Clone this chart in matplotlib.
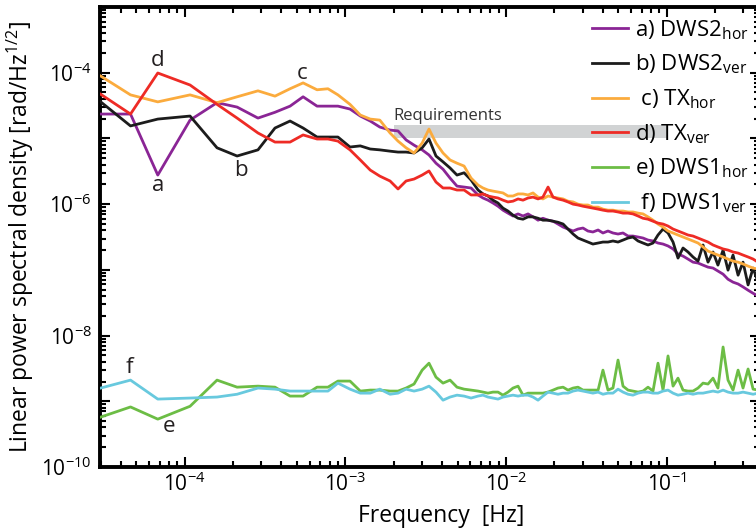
import math
import matplotlib
matplotlib.use("Agg")
import matplotlib.pyplot as plt
from matplotlib.ticker import FixedLocator, FuncFormatter, LogLocator, NullFormatter

plt.rcParams["font.family"] = ["Open Sans", "DejaVu Sans"]
plt.rcParams["mathtext.fontset"] = "custom"
plt.rcParams["mathtext.rm"] = "Open Sans"
plt.rcParams["mathtext.it"] = "Open Sans:italic"
plt.rcParams["mathtext.bf"] = "Open Sans:bold"

# frequency bins [Hz], shared by all six channels
freq = [3.0e-5, 4.6e-5, 6.8e-5, 1.08e-4, 1.59e-4, 2.12e-4, 2.86e-4, 3.65e-4, 4.53e-4, 5.46e-4,
        6.67e-4, 7.8e-4, 9.0e-4, 1.07e-3, 1.24e-3, 1.43e-3, 1.64e-3, 1.90e-3, 2.13e-3, 2.39e-3,
        2.68e-3, 3.01e-3, 3.32e-3, 3.67e-3, 4.06e-3, 4.49e-3, 4.96e-3, 5.49e-3, 6.07e-3, 6.71e-3,
        7.20e-3, 7.73e-3, 8.31e-3, 8.93e-3, 9.59e-3, 1.03e-2, 1.107e-2, 1.19e-2, 1.278e-2, 1.373e-2,
        1.475e-2, 1.585e-2, 1.70e-2, 1.83e-2, 1.965e-2, 2.11e-2, 2.27e-2, 2.435e-2, 2.62e-2, 2.81e-2,
        3.02e-2, 3.24e-2, 3.48e-2, 3.75e-2, 4.02e-2, 4.32e-2, 4.64e-2, 4.99e-2, 5.36e-2, 5.76e-2,
        6.18e-2, 6.65e-2, 7.14e-2, 7.67e-2, 8.24e-2, 8.85e-2, 9.51e-2, 0.1022, 0.1098, 0.1179,
        0.1267, 0.1361, 0.1462, 0.1571, 0.1688, 0.1813, 0.1948, 0.209, 0.225, 0.2415,
        0.2595, 0.279, 0.2995, 0.322, 0.346, 0.371]

# linear power spectral density [rad/Hz^1/2]
dws2_hor = [2.35e-5, 2.35e-5, 2.77e-6, 1.90e-5, 3.5e-5, 3.0e-5, 2.04e-5, 2.5e-5, 3.1e-5, 4.3e-5,
            3.1e-5, 3.1e-5, 3.1e-5, 2.8e-5, 2.19e-5, 1.84e-5, 1.49e-5, 1.34e-5, 1.30e-5, 9.5e-6,
            7.9e-6, 6.7e-6, 5.6e-6, 4.2e-6, 3.4e-6, 2.49e-6, 1.88e-6, 1.82e-6, 1.76e-6, 1.38e-6,
            1.24e-6, 1.15e-6, 1.04e-6, 9.3e-7, 8.1e-7, 7.3e-7, 6.6e-7, 7.1e-7, 6.6e-7, 7.1e-7,
            6.4e-7, 5.7e-7, 6.1e-7, 5.7e-7, 5.5e-7, 4.98e-7, 4.48e-7, 4.18e-7, 3.90e-7, 4.18e-7,
            4.33e-7, 3.90e-7, 3.77e-7, 4.04e-7, 3.64e-7, 3.90e-7, 3.64e-7, 3.51e-7, 3.64e-7, 3.27e-7,
            3.27e-7, 3.16e-7, 3.05e-7, 2.84e-7, 2.75e-7, 2.56e-7, 2.47e-7, 2.31e-7, 2.08e-7, 1.74e-7,
            1.62e-7, 1.46e-7, 1.31e-7, 1.27e-7, 1.18e-7, 1.10e-7, 1.065e-7, 9.6e-8, 8.6e-8, 7.2e-8,
            6.5e-8, 6.1e-8, 5.5e-8, 4.9e-8, 4.4e-8, 4.0e-8]
dws2_ver = [3.6e-5, 1.55e-5, 1.97e-5, 2.19e-5, 7.2e-6, 5.4e-6, 6.7e-6, 1.44e-5, 1.84e-5, 1.44e-5,
            1.05e-5, 1.05e-5, 1.05e-5, 7.4e-6, 7.7e-6, 6.9e-6, 6.7e-6, 6.4e-6, 6.2e-6, 6.2e-6,
            6.0e-6, 7.2e-6, 9.8e-6, 5.4e-6, 4.4e-6, 3.55e-6, 2.77e-6, 3.0e-6, 2.33e-6, 1.64e-6,
            1.43e-6, 1.33e-6, 1.15e-6, 1.04e-6, 8.7e-7, 7.85e-7, 6.8e-7, 6.1e-7, 5.9e-7, 6.4e-7,
            6.4e-7, 6.1e-7, 5.7e-7, 5.7e-7, 5.5e-7, 5.3e-7, 4.98e-7, 4.18e-7, 3.51e-7, 3.05e-7,
            2.84e-7, 2.65e-7, 2.47e-7, 2.56e-7, 2.65e-7, 2.65e-7, 2.75e-7, 2.65e-7, 2.84e-7, 3.05e-7,
            3.16e-7, 2.75e-7, 2.56e-7, 2.39e-7, 2.56e-7, 3.39e-7, 4.18e-7, 3.64e-7, 2.65e-7, 1.51e-7,
            2.15e-7, 1.87e-7, 1.57e-7, 1.36e-7, 2.39e-7, 1.31e-7, 1.87e-7, 1.18e-7, 2.00e-7, 9.9e-8,
            1.68e-7, 8.3e-8, 1.31e-7, 5.9e-8, 1.065e-7, 6.5e-8]
tx_hor = [8.9e-5, 4.6e-5, 3.6e-5, 4.6e-5, 3.5e-5, 4.3e-5, 5.3e-5, 4.4e-5, 5.7e-5, 7.0e-5,
          5.5e-5, 5.7e-5, 4.6e-5, 3.3e-5, 2.27e-5, 1.97e-5, 1.90e-5, 1.21e-5, 9.1e-6, 7.2e-6,
          6.0e-6, 8.5e-6, 1.39e-5, 8.5e-6, 6.0e-6, 4.7e-6, 4.2e-6, 3.8e-6, 2.49e-6, 1.95e-6,
          1.76e-6, 1.64e-6, 1.58e-6, 1.53e-6, 1.48e-6, 1.33e-6, 1.33e-6, 1.43e-6, 1.43e-6, 1.38e-6,
          1.48e-6, 1.28e-6, 1.20e-6, 1.33e-6, 1.28e-6, 1.24e-6, 1.20e-6, 1.11e-6, 1.08e-6, 1.00e-6,
          9.7e-7, 9.7e-7, 9.0e-7, 9.0e-7, 8.4e-7, 8.1e-7, 8.1e-7, 7.85e-7, 7.85e-7, 7.6e-7,
          7.6e-7, 7.3e-7, 7.1e-7, 6.4e-7, 5.7e-7, 4.98e-7, 4.48e-7, 3.90e-7, 3.64e-7, 3.39e-7,
          3.16e-7, 2.95e-7, 2.75e-7, 2.56e-7, 2.23e-7, 1.93e-7, 1.80e-7, 1.68e-7, 1.57e-7, 1.46e-7,
          1.36e-7, 1.31e-7, 1.23e-7, 1.14e-7, 1.065e-7, 1.03e-7]
tx_ver = [4.7e-5, 2.35e-5, 9.9e-5, 6.5e-5, 3.3e-5, 2.04e-5, 1.21e-5, 8.8e-6, 8.8e-6, 1.13e-5,
          9.8e-6, 9.8e-6, 9.1e-6, 6.7e-6, 4.7e-6, 3.3e-6, 2.67e-6, 2.25e-6, 1.70e-6, 2.25e-6,
          2.41e-6, 2.77e-6, 3.2e-6, 2.17e-6, 1.76e-6, 1.76e-6, 1.64e-6, 1.64e-6, 1.38e-6, 1.38e-6,
          1.43e-6, 1.33e-6, 1.28e-6, 1.24e-6, 1.15e-6, 1.08e-6, 1.11e-6, 1.20e-6, 1.15e-6, 1.24e-6,
          1.28e-6, 1.20e-6, 1.28e-6, 1.82e-6, 1.28e-6, 1.20e-6, 1.15e-6, 1.08e-6, 1.00e-6, 9.7e-7,
          9.3e-7, 9.0e-7, 8.7e-7, 8.4e-7, 8.1e-7, 7.85e-7, 7.85e-7, 7.6e-7, 7.3e-7, 7.3e-7,
          7.1e-7, 6.6e-7, 6.1e-7, 5.9e-7, 5.5e-7, 5.15e-7, 4.98e-7, 4.64e-7, 4.18e-7, 3.90e-7,
          3.64e-7, 3.39e-7, 3.27e-7, 3.05e-7, 2.84e-7, 2.65e-7, 2.39e-7, 2.23e-7, 2.08e-7, 2.00e-7,
          1.87e-7, 1.80e-7, 1.68e-7, 1.57e-7, 1.46e-7, 1.31e-7]
dws1_hor = [5.75e-10, 8.2e-10, 5.35e-10, 8.4e-10, 2.10e-9, 1.64e-9, 1.70e-9, 1.64e-9, 1.20e-9, 1.20e-9,
            1.64e-9, 1.64e-9, 2.03e-9, 2.03e-9, 1.43e-9, 1.48e-9, 1.48e-9, 1.43e-9, 1.43e-9, 1.59e-9,
            1.83e-9, 2.98e-9, 3.8e-9, 2.33e-9, 1.89e-9, 2.10e-9, 1.64e-9, 1.53e-9, 1.48e-9, 1.43e-9,
            1.38e-9, 1.33e-9, 1.38e-9, 1.38e-9, 1.24e-9, 1.38e-9, 1.59e-9, 1.70e-9, 1.24e-9, 1.33e-9,
            1.33e-9, 1.33e-9, 1.33e-9, 1.38e-9, 1.48e-9, 1.59e-9, 1.64e-9, 1.48e-9, 1.59e-9, 1.64e-9,
            1.48e-9, 1.48e-9, 1.48e-9, 1.48e-9, 2.98e-9, 1.48e-9, 1.59e-9, 4.24e-9, 1.70e-9, 1.48e-9,
            1.43e-9, 1.38e-9, 1.43e-9, 1.64e-9, 1.43e-9, 3.8e-9, 1.48e-9, 4.9e-9, 1.70e-9, 2.25e-9,
            1.48e-9, 1.43e-9, 1.43e-9, 1.59e-9, 1.89e-9, 1.83e-9, 2.25e-9, 1.59e-9, 6.7e-9, 2.10e-9,
            1.48e-9, 2.98e-9, 1.59e-9, 3.1e-9, 1.53e-9, 1.48e-9]
dws1_ver = [1.59e-9, 2.10e-9, 1.08e-9, 1.12e-9, 1.16e-9, 1.28e-9, 1.59e-9, 1.53e-9, 1.43e-9, 1.43e-9,
            1.43e-9, 1.43e-9, 1.89e-9, 1.53e-9, 1.33e-9, 1.33e-9, 1.53e-9, 1.28e-9, 1.33e-9, 1.53e-9,
            1.43e-9, 1.53e-9, 1.70e-9, 1.38e-9, 1.04e-9, 1.16e-9, 1.24e-9, 1.20e-9, 1.12e-9, 1.20e-9,
            1.24e-9, 1.16e-9, 1.12e-9, 1.08e-9, 1.16e-9, 1.20e-9, 1.24e-9, 1.20e-9, 1.24e-9, 1.24e-9,
            1.16e-9, 1.04e-9, 1.20e-9, 1.38e-9, 1.33e-9, 1.28e-9, 1.33e-9, 1.33e-9, 1.43e-9, 1.48e-9,
            1.43e-9, 1.38e-9, 1.33e-9, 1.38e-9, 1.28e-9, 1.33e-9, 1.33e-9, 1.53e-9, 1.38e-9, 1.28e-9,
            1.24e-9, 1.33e-9, 1.38e-9, 1.38e-9, 1.33e-9, 1.33e-9, 1.43e-9, 1.48e-9, 1.33e-9, 1.24e-9,
            1.28e-9, 1.33e-9, 1.28e-9, 1.33e-9, 1.33e-9, 1.38e-9, 1.43e-9, 1.38e-9, 1.48e-9, 1.38e-9,
            1.33e-9, 1.33e-9, 1.38e-9, 1.33e-9, 1.28e-9, 1.33e-9]

labels = [r"a) DWS2$_{\mathregular{hor}}$", r"b) DWS2$_{\mathregular{ver}}$", r" c) TX$_{\mathregular{hor}}$",
          r"d) TX$_{\mathregular{ver}}$", r"e) DWS1$_{\mathregular{hor}}$", r" f) DWS1$_{\mathregular{ver}}$"]
colors = ["#8a2595", "#1c1c1c", "#fbab3d", "#ee2b25", "#6cbd45", "#68c9de"]
series = [dws2_hor, dws2_ver, tx_hor, tx_ver, dws1_hor, dws1_ver]

# letters next to the curves
tags = ["a", "b", "c", "d", "e", "f"]
tag_freq = [6.8e-5, 2.24e-4, 5.37e-4, 6.8e-5, 8.0e-5, 4.5e-5]
tag_psd = [1.95e-6, 3.2e-6, 9.6e-5, 1.56e-4, 4.2e-10, 3.3e-9]

# requirement band
req_freq = [2e-3, 0.1]
req_low = 1.0e-5
req_high = 1.6e-5

fig = plt.figure(figsize=(7.56, 5.32), dpi=100)
ax = fig.add_axes([100 / 756, 65 / 532, 660 / 756, 460 / 532])

ax.fill_between(req_freq, req_low, req_high, color="#d1d3d4", lw=0, zorder=1)
ax.text(req_freq[0], req_high * 1.05, "Requirements", fontsize=12, color="#333333",
        ha="left", va="bottom", zorder=1)

for y, c, lab in zip(series, colors, labels):
    ax.plot(freq, y, color=c, lw=2.0, label=lab, zorder=3)

for t, fx, fy in zip(tags, tag_freq, tag_psd):
    ax.text(fx, fy, t, fontsize=16, ha="center", va="center", color="#231f20", zorder=4)

ax.set_xscale("log")
ax.set_yscale("log")
ax.set_xlim(2.97e-5, 0.382)
ax.set_ylim(1e-10, 1e-3)


def xlab(v, p):
    return r"$\mathregular{10^{%d}}$" % round(math.log10(v))


def ylab(v, p):
    e = round(math.log10(v))
    if e % 2 == 0:
        return r"$\mathregular{10^{%d}}$" % e
    return ""


ax.xaxis.set_major_locator(FixedLocator([1e-4, 1e-3, 1e-2, 1e-1]))
ax.xaxis.set_minor_locator(LogLocator(base=10, subs=range(2, 10), numticks=20))
ax.xaxis.set_minor_formatter(NullFormatter())
ax.xaxis.set_major_formatter(FuncFormatter(xlab))

ax.yaxis.set_major_locator(FixedLocator([1e-10, 1e-9, 1e-8, 1e-7, 1e-6, 1e-5, 1e-4, 1e-3]))
ax.yaxis.set_minor_locator(LogLocator(base=10, subs=range(2, 10), numticks=20))
ax.yaxis.set_minor_formatter(NullFormatter())
ax.yaxis.set_major_formatter(FuncFormatter(ylab))

for s in ax.spines.values():
    s.set_linewidth(2.8)
ax.tick_params(which="both", direction="in", top=True, right=True, width=1.5, labelsize=15)
ax.tick_params(which="major", length=7, pad=4)
ax.tick_params(which="minor", length=4)
ax.tick_params(axis="y", which="major", pad=6)

ax.set_xlabel("Frequency  [Hz]", fontsize=16.5)
ax.xaxis.set_label_coords(0.517, -0.08)
ax.set_ylabel(r"Linear power spectral density [rad/Hz$^{\mathregular{1/2}}$]", fontsize=16.5)

ax.legend(loc="upper left", bbox_to_anchor=(592 / 756, 1 - 18 / 532), bbox_transform=fig.transFigure,
          frameon=False, fontsize=16, handlelength=1.6, handletextpad=0.35, labelspacing=0.5,
          borderpad=0, borderaxespad=0)

fig.savefig("out.png", dpi=100)
